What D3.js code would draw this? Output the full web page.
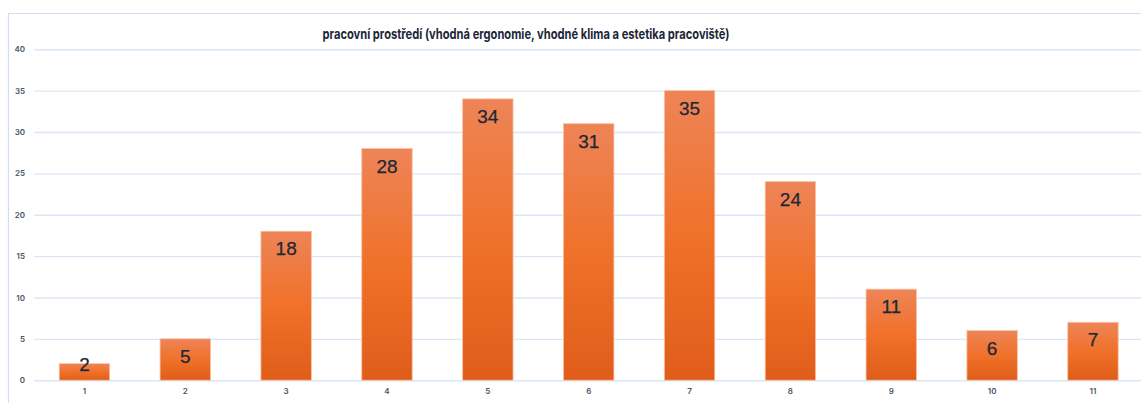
<!DOCTYPE html>
<html>
<head>
<meta charset="utf-8">
<script src="https://cdn.jsdelivr.net/npm/d3@7"></script>
<style>
  html, body { margin: 0; padding: 0; background: #ffffff; }
  svg { display: block; }
</style>
</head>
<body>
<svg id="chart" width="1141" height="403"></svg>
<script>
// Chart data
const chartTitle = "pracovní prostředí (vhodná ergonomie, vhodné klima a estetika pracoviště)";
const categories = ["1", "2", "3", "4", "5", "6", "7", "8", "9", "10", "11"];
const counts = [2, 5, 18, 28, 34, 31, 35, 24, 11, 6, 7];
const yTicks = [0, 5, 10, 15, 20, 25, 30, 35, 40];

const width = 1141, height = 403;
const plot = { left: 34, right: 1143.4, top: 49.2, bottom: 380.2 };

const svg = d3.select("#chart");

// Vertical orange gradient for the bars
const defs = svg.append("defs");
const grad = defs.append("linearGradient")
  .attr("id", "barFill")
  .attr("x1", 0).attr("y1", 0).attr("x2", 0).attr("y2", 1);
grad.append("stop").attr("offset", "0%").attr("stop-color", "#ee8457");
grad.append("stop").attr("offset", "50%").attr("stop-color", "#f0712a");
grad.append("stop").attr("offset", "100%").attr("stop-color", "#df5d19");

// Chart frame (top and left edges)
svg.append("path")
  .attr("d", `M8.5,${height} V13.5 H${width}`)
  .attr("fill", "none")
  .attr("stroke", "#cfe0f2")
  .attr("stroke-width", 1.2);

const x = d3.scaleBand()
  .domain(categories)
  .range([plot.left, plot.right])
  .paddingInner(0.5)
  .paddingOuter(0.25);

const y = d3.scaleLinear()
  .domain([0, 40])
  .range([plot.bottom, plot.top]);

// Gridlines + y labels
const yAxis = d3.axisLeft(y)
  .tickValues(yTicks)
  .tickSize(-(plot.right - plot.left))
  .tickPadding(9)
  .tickFormat(d3.format("d"));

const gy = svg.append("g")
  .attr("transform", `translate(${plot.left},0)`)
  .call(yAxis);
gy.select(".domain").remove();
gy.selectAll(".tick line")
  .attr("stroke", "#dbe7f5")
  .attr("stroke-width", 1.4);
gy.selectAll(".tick text")
  .attr("fill", "#4a5666")
  .attr("font-family", "Inter, 'Noto Sans', sans-serif")
  .attr("font-weight", 600)
  .attr("font-size", 8);

// X labels
const xAxis = d3.axisBottom(x).tickSize(0).tickPadding(8);
const gx = svg.append("g")
  .attr("transform", `translate(0,${plot.bottom})`)
  .call(xAxis);
gx.select(".domain").remove();
gx.selectAll(".tick text")
  .attr("fill", "#4a5666")
  .attr("font-family", "Inter, 'Noto Sans', sans-serif")
  .attr("font-weight", 600)
  .attr("font-size", 8);

// Bars
svg.append("g")
  .selectAll("rect")
  .data(counts)
  .join("rect")
  .attr("x", (d, i) => x(categories[i]))
  .attr("y", d => y(d))
  .attr("width", x.bandwidth())
  .attr("height", d => y(0) - y(d))
  .attr("fill", "url(#barFill)")
  .attr("stroke", "#f7c2a6")
  .attr("stroke-width", 0.8);

// Value labels inside the top of each bar
svg.append("g")
  .selectAll("text")
  .data(counts)
  .join("text")
  .attr("x", (d, i) => x(categories[i]) + x.bandwidth() / 2)
  .attr("y", d => Math.min(y(d) + 24, y(0) - 9))
  .attr("text-anchor", "middle")
  .attr("font-family", "'Liberation Sans', Arial, sans-serif")
  .attr("font-size", 19)
  .attr("fill", "#1c2738")
  .attr("stroke", "#1c2738")
  .attr("stroke-width", 0.25)
  .text(d => d);

// Title
svg.append("text")
  .attr("x", 526)
  .attr("y", 38.5)
  .attr("text-anchor", "middle")
  .attr("font-family", "Inter, 'Noto Sans', sans-serif")
  .attr("font-weight", 700)
  .attr("font-size", 14)
  .attr("textLength", 407)
  .attr("lengthAdjust", "spacingAndGlyphs")
  .attr("fill", "#1c2738")
  .text(chartTitle);
</script>
</body>
</html>
